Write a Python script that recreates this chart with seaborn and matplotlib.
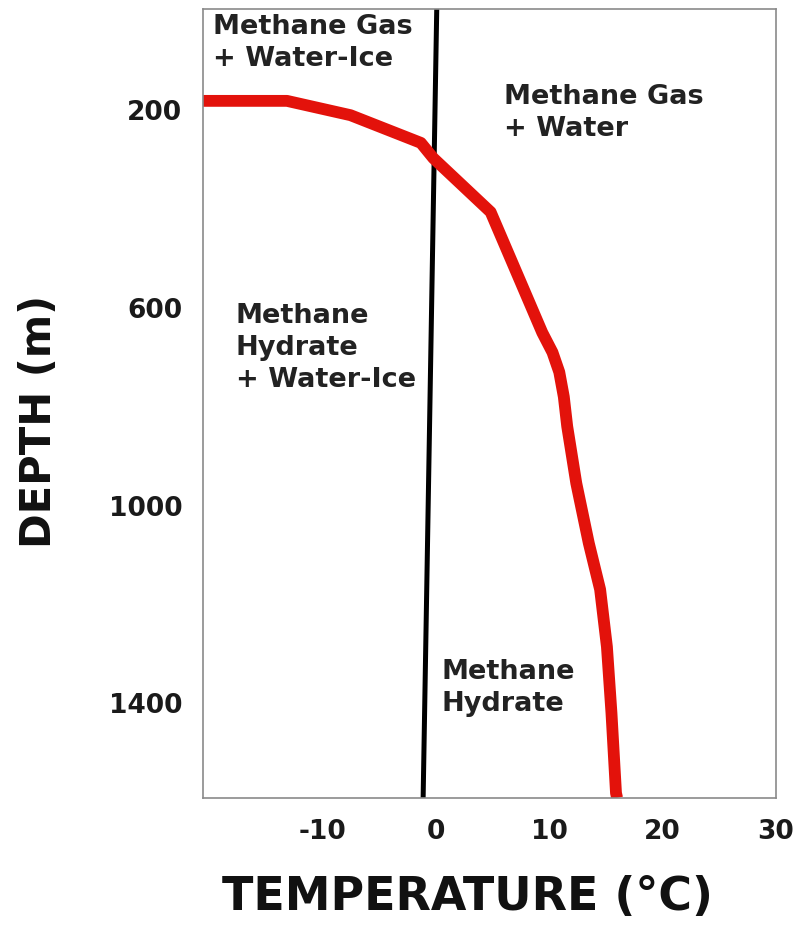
import matplotlib
matplotlib.use("Agg")
import matplotlib.pyplot as plt
import seaborn as sns

# Hydrate stability curve (red)
stability_temp = [-20.5, -13.1, -7.5, -1.3, -0.2, 4.85, 9.4, 10.3, 10.9, 11.3, 11.6, 12.4, 13.5, 14.5, 15.1, 15.5, 15.9, 16.0]
stability_depth = [181, 181, 210, 266, 297, 406, 650, 690, 730, 780, 840, 955, 1076, 1170, 1286, 1420, 1582, 1592]

# Geotherm (black)
geotherm_temp = [0.1, -1.1]
geotherm_depth = [-5, 1592]

y_ticks = [200, 400, 600, 800, 1000, 1200, 1400]
y_tick_labels = ["200", "", "600", "", "1000", "", "1400"]
x_ticks = [-10, 0, 10, 20, 30]
x_tick_labels = ["-10", "0", "10", "20", "30"]

region_labels = ["Methane Gas\n+ Water-Ice", "Methane Gas\n+ Water", "Methane\nHydrate\n+ Water-Ice", "Methane\nHydrate"]
region_x = [-19.6, 6.0, -17.6, 0.55]
region_y = [6, 146, 590, 1310]

sns.set_style("white")
plt.rcParams["font.family"] = ["DejaVu Sans"]

fig, ax = plt.subplots(figsize=(7.94, 9.25), dpi=100)
fig.subplots_adjust(left=0.2557, right=0.9773, top=0.9903, bottom=0.1373)

sns.lineplot(x=geotherm_temp, y=geotherm_depth, sort=False, estimator=None,
             color="black", linewidth=3.6, ax=ax)
sns.lineplot(x=stability_temp, y=stability_depth, sort=False, estimator=None,
             color="#e3120b", linewidth=8.5, ax=ax, solid_capstyle="butt")

ax.set_xlim(-20.5, 30)
ax.set_ylim(1592, -5)

ax.set_xticks(x_ticks)
ax.set_xticklabels(x_tick_labels)
ax.set_yticks(y_ticks)
ax.set_yticklabels(y_tick_labels)
ax.tick_params(axis="both", direction="out", length=12, width=1.1, color="#8a8a8a",
               labelsize=19, labelcolor="#1a1a1a", pad=3)
for lab in ax.get_xticklabels() + ax.get_yticklabels():
    lab.set_fontweight("bold")

for s in ax.spines.values():
    s.set_color("#8a8a8a")
    s.set_linewidth(1.2)

for txt, tx, ty in zip(region_labels, region_x, region_y):
    ax.text(tx, ty, txt, ha="left", va="top", fontsize=19.5, fontweight="bold",
            color="#222222", linespacing=1.3)

ax.set_xlabel("TEMPERATURE (°C)", fontsize=33, fontweight="bold", color="#111111")
ax.set_ylabel("DEPTH (m)", fontsize=30, fontweight="bold", color="#111111")
ax.xaxis.set_label_coords(0.462, -0.097)
ax.yaxis.set_label_coords(-0.25, 0.477)

fig.savefig("out.png", dpi=100)
